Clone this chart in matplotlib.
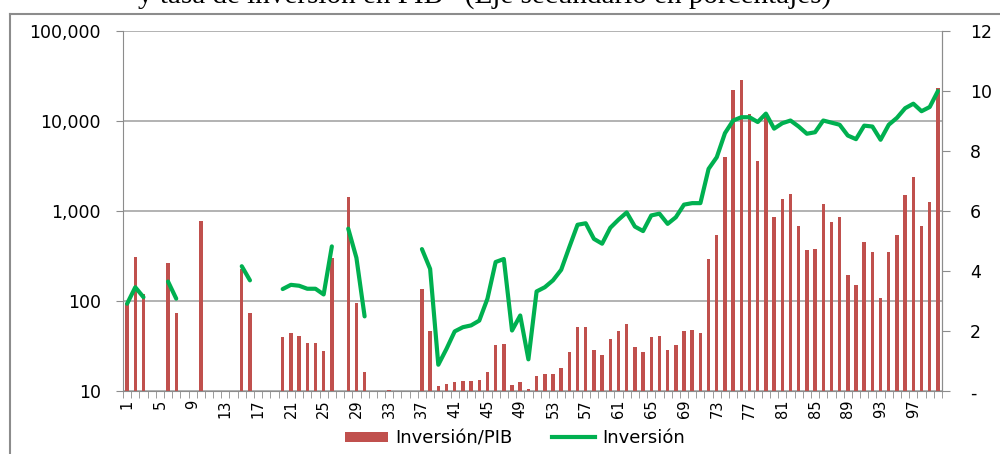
import numpy as np
import matplotlib
matplotlib.use("Agg")
import matplotlib.pyplot as plt
from matplotlib.ticker import FuncFormatter, FixedLocator, NullLocator
from matplotlib.patches import Patch
from matplotlib.lines import Line2D

# categories 1..100
periodos = list(range(1, 101))

# Inversión/PIB (left axis, log)  -- None = sin dato
inv_pib = [
    95, 310, 121, None, None, 266, 75, None, None, 776,
    None, None, None, None, 230, 75, None, None, None, 40.7,
    44.8, 41.8, 34.4, 34.4, 27.8, 305, None, 1436, 95.5, 16.3,
    None, None, 10.3, None, None, None, 136, 46.4, 11.4, 12.0,
    12.9, 13.2, 13.2, 13.5, 16.3, 32.4, 33.8, 11.8, 12.7, 10.7,
    14.7, 15.5, 15.7, 18.2, 27.4, 52.6, 52.6, 29.0, 25.1, 37.8,
    46.4, 56.4, 31.0, 27.4, 40.7, 41.5, 29.0, 32.4, 47.5, 48.0,
    44.8, 297, 548, 3990, 21900, 28300, 12080, 3630, 11090, 853,
    1364, 1564, 678, 373, 380, 1199, 751, 853, 197, 150,
    451, 355, 108, 355, 543, 1497, 2393, 678, 1262, 23440,
]

# Inversión (right axis, %)
inversion = [
    2.92, 3.47, 3.14, None, None, 3.66, 3.09, None, None, None,
    None, None, None, None, 4.17, 3.70, None, None, None, 3.41,
    3.55, 3.52, 3.42, 3.42, 3.23, 4.83, None, 5.42, 4.45, 2.50,
    None, None, None, None, None, None, 4.74, 4.08, 0.89, 1.42,
    2.00, 2.14, 2.20, 2.36, 3.09, 4.31, 4.41, 2.03, 2.53, 1.07,
    3.33, 3.47, 3.70, 4.05, 4.81, 5.55, 5.60, 5.08, 4.92, 5.45,
    5.72, 5.96, 5.49, 5.34, 5.86, 5.92, 5.58, 5.80, 6.22, 6.27,
    6.27, 7.41, 7.80, 8.60, 9.02, 9.13, 9.13, 8.97, 9.25, 8.75,
    8.93, 9.02, 8.82, 8.58, 8.63, 9.02, 8.95, 8.88, 8.52, 8.40,
    8.85, 8.82, 8.38, 8.88, 9.11, 9.43, 9.58, 9.33, 9.47, 10.0,
]

etiquetas_x = list(range(1, 101, 4))

red = "#c0504d"
green = "#00b050"
gray = "#8c8c8c"

fig = plt.figure(figsize=(10, 4.54), dpi=100)

# outer frame (clipped at right/bottom like the screenshot)
fig.add_artist(Line2D([0.010, 1.0], [0.969, 0.969], transform=fig.transFigure,
                      color=gray, lw=1.5))
fig.add_artist(Line2D([0.010, 0.010], [0.0, 0.969], transform=fig.transFigure,
                      color=gray, lw=1.5))

# title, mostly cut off at the top of the screenshot
fig.text(0.485, 0.9935, "y tasa de inversión en PIB   (Eje secundario en porcentajes)",
         ha="center", va="baseline", fontsize=21, family="Liberation Serif")

ax = fig.add_axes([0.123, 0.1377, 0.819, 0.794])

xb = [p for p, v in zip(periodos, inv_pib) if v is not None]
hb = [v for v in inv_pib if v is not None]
ax.bar(xb, hb, width=0.42, color=red, log=True, zorder=2)
ax.set_yscale("log")
ax.set_ylim(10, 100000)
ax.set_xlim(0.5, 100.5)

ax.yaxis.set_major_locator(FixedLocator([10, 100, 1000, 10000, 100000]))
ax.yaxis.set_minor_locator(NullLocator())
ax.yaxis.set_major_formatter(FuncFormatter(lambda v, p: f"{v:,.0f}"))
ax.grid(axis="y", which="major", color="#a6a6a6", lw=1.2, zorder=0)
ax.set_axisbelow(True)

ax.set_xticks(etiquetas_x)
ax.set_xticklabels([str(e) for e in etiquetas_x], rotation=90)
ax.xaxis.set_minor_locator(FixedLocator(np.arange(0.5, 101, 1)))
ax.tick_params(axis="x", which="major", length=0, labelsize=10.5, pad=6)
ax.tick_params(axis="x", which="minor", length=5, color=gray, direction="out")
ax.tick_params(axis="y", length=5, color=gray, labelsize=12.5, pad=11)

ax.spines["top"].set_visible(False)
for s in ["left", "bottom", "right"]:
    ax.spines[s].set_color(gray)

ax2 = ax.twinx()
yl = [np.nan if v is None else v for v in inversion]
ax2.plot(periodos, yl, color=green, lw=3, solid_capstyle="round",
         solid_joinstyle="round", zorder=3)
ax2.set_ylim(0, 12)
ax2.set_yticks(range(0, 13, 2))
ax2.yaxis.set_major_formatter(FuncFormatter(lambda v, p: "-" if v == 0 else f"{v:.0f}"))
ax2.tick_params(axis="y", length=6, color=gray, labelsize=12.5, pad=14)
ax2.spines["top"].set_visible(False)
ax2.spines["right"].set_color(gray)
ax2.spines["left"].set_visible(False)
ax2.spines["bottom"].set_visible(False)

handles = [Patch(facecolor=red, label="Inversión/PIB"),
           Line2D([], [], color=green, lw=3, label="Inversión")]
fig.legend(handles=handles, loc="center", bbox_to_anchor=(0.515, 0.035),
           ncol=2, frameon=False, fontsize=13, handlelength=2.4,
           handleheight=0.5, columnspacing=2.2, handletextpad=0.4)

fig.savefig("out.png", dpi=100)
